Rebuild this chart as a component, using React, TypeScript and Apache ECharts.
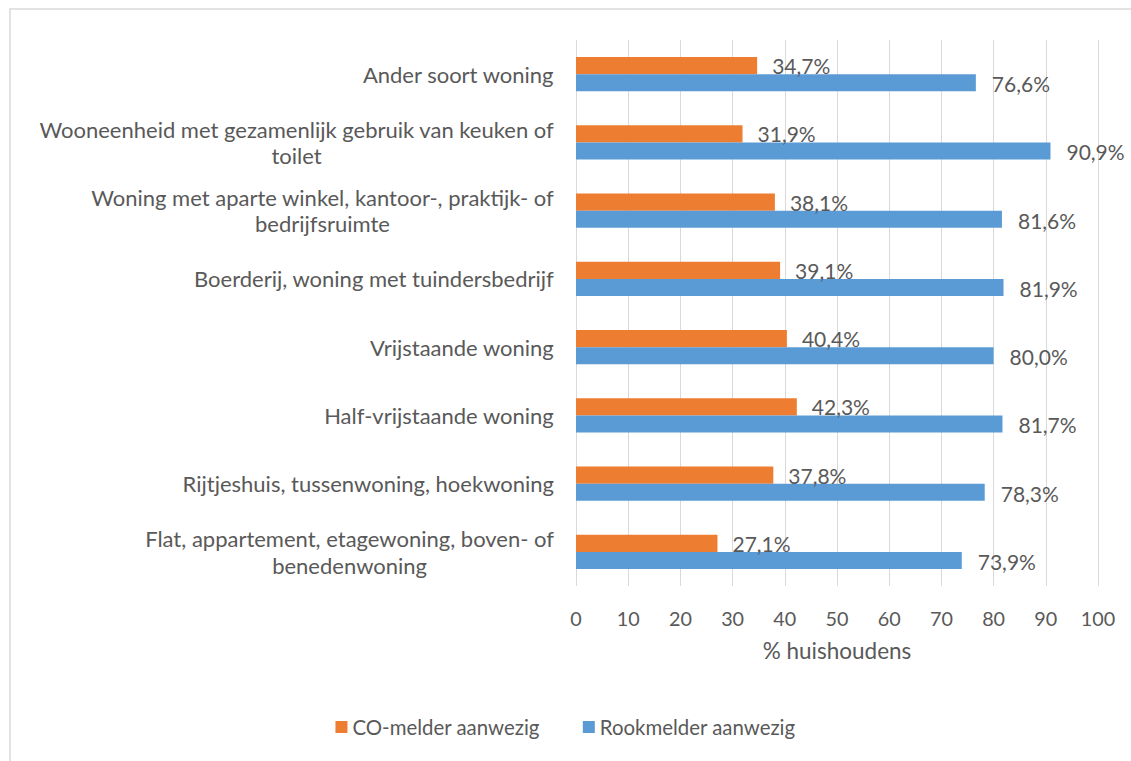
import React, { useEffect, useRef } from "react";
import * as echarts from "echarts";

const categories = [
  "Ander soort woning",
  "Wooneenheid met gezamenlijk gebruik van keuken of\ntoilet",
  "Woning met aparte winkel, kantoor-, praktijk- of\nbedrijfsruimte",
  "Boerderij, woning met tuindersbedrijf",
  "Vrijstaande woning",
  "Half-vrijstaande woning",
  "Rijtjeshuis, tussenwoning, hoekwoning",
  "Flat, appartement, etagewoning, boven- of\nbenedenwoning",
];
const coValues = [34.7, 31.9, 38.1, 39.1, 40.4, 42.3, 37.8, 27.1];
const rookValues = [76.6, 90.9, 81.6, 81.9, 80.0, 81.7, 78.3, 73.9];
const seriesNames = ["CO-melder aanwezig", "Rookmelder aanwezig"];
const axisName = "% huishoudens";

const FONT = "Lato";
const TEXT = "#595959";

export default function App() {
  const ref = useRef<HTMLDivElement>(null);
  useEffect(() => {
    if (!ref.current) return;
    const chart = echarts.init(ref.current, undefined, { renderer: "svg" });
    const fmt = (p: any) => p.value.toFixed(1).replace(".", ",") + "%";
    chart.setOption({
      animation: false,
      backgroundColor: "#ffffff",
      textStyle: { fontFamily: FONT, color: TEXT },
      graphic: [
        {
          type: "rect",
          shape: { x: 10, y: 9, width: 1300, height: 900 },
          style: { fill: "none", stroke: "#d9d9d9", lineWidth: 1.5 },
          silent: true,
        },
      ],
      grid: { left: 576, right: 33, top: 40, bottom: 175 },
      legend: {
        data: seriesNames,
        top: 712,
        left: "center",
        icon: "rect",
        itemWidth: 12,
        itemHeight: 12,
        itemGap: 43,
        textStyle: { fontFamily: FONT, fontSize: 20.4, color: TEXT },
      },
      xAxis: {
        type: "value",
        min: 0,
        max: 100,
        interval: 10,
        name: axisName,
        nameLocation: "middle",
        nameGap: 53,
        nameTextStyle: { fontFamily: FONT, fontSize: 22.5, color: TEXT },
        axisLine: { show: false },
        axisTick: { show: false },
        axisLabel: { fontFamily: FONT, fontSize: 19.8, color: TEXT, margin: 22 },
        splitLine: { show: true, lineStyle: { color: "#d9d9d9", width: 1 } },
      },
      yAxis: {
        type: "category",
        data: categories,
        inverse: true,
        axisLine: { show: false },
        axisTick: { show: false },
        axisLabel: {
          margin: 22,
          align: "right",
          formatter: (v: string) =>
            v
              .split("\n")
              .map((l) => `{c|${l}}`)
              .join("\n"),
          rich: {
            c: {
              align: "center",
              fontFamily: FONT,
              fontSize: 22,
              color: TEXT,
              lineHeight: 26.5,
            },
          },
        },
      },
      series: [
        {
          name: seriesNames[0],
          type: "bar",
          data: coValues,
          itemStyle: { color: "#ED7D31" },
          barGap: "0%",
          barCategoryGap: "50%",
          label: {
            show: true,
            position: "right",
            distance: 15,
            offset: [0, 0],
            formatter: fmt,
            fontFamily: FONT,
            fontSize: 21,
            color: TEXT,
          },
        },
        {
          name: seriesNames[1],
          type: "bar",
          data: rookValues,
          itemStyle: { color: "#5B9BD5" },
          barGap: "0%",
          barCategoryGap: "50%",
          label: {
            show: true,
            position: "right",
            distance: 16,
            offset: [0, 1],
            formatter: fmt,
            fontFamily: FONT,
            fontSize: 21,
            color: TEXT,
          },
        },
      ],
    });
    return () => chart.dispose();
  }, []);
  return (
    <div
      ref={ref}
      style={{ position: "fixed", left: 0, top: 0, width: 1131, height: 761 }}
    />
  );
}
